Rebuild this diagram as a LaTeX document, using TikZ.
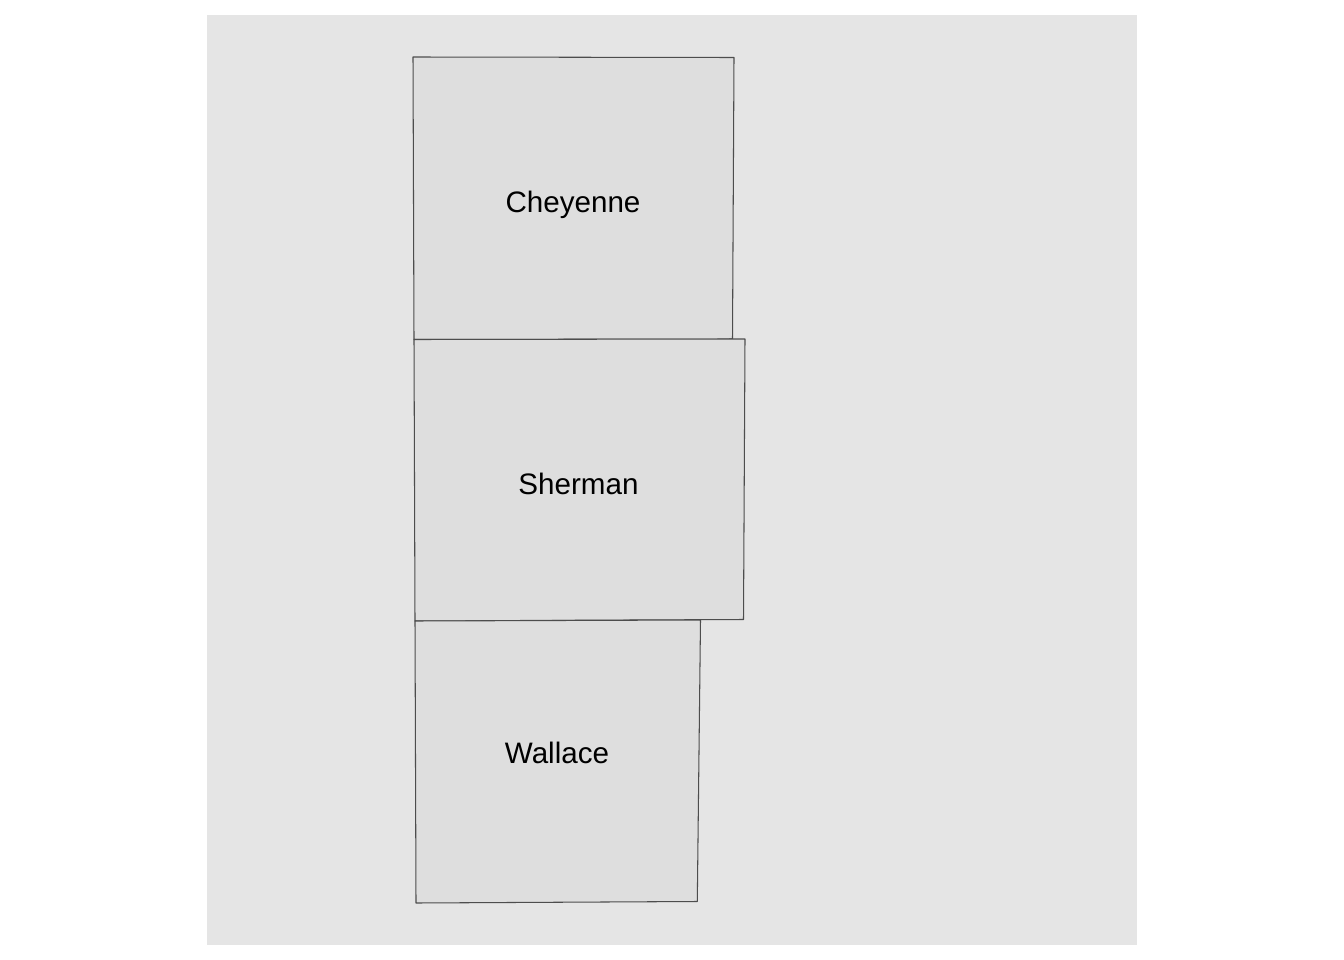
\documentclass[tikz,border=0pt]{standalone}
\usepackage{fontspec}
\setmainfont{Liberation Sans}
\usepackage{xcolor}
\definecolor{panelgrey}{HTML}{E5E5E5}
\definecolor{countygrey}{HTML}{DEDEDE}
\definecolor{edgegrey}{HTML}{4D4D4D}
\begin{document}
\begin{tikzpicture}[x=1pt,y=-1pt,
  countyshape/.style={draw=edgegrey, line width=1.05pt, fill=countygrey, line join=round},
  countylabel/.style={font=\fontsize{29.6}{32}\selectfont, text=black, inner sep=0pt, anchor=base}
]
  \useasboundingbox (0,0) rectangle (1344,960);
  \fill[panelgrey] (207,15) rectangle (1137,945);

  \draw[countyshape] (413,57) -- (734,57.5) -- (732.5,339) -- (414,339.5) -- cycle;
  \draw[countyshape] (414,339.5) -- (745,339) -- (743.5,619.5) -- (415,621) -- cycle;
  \draw[countyshape] (415,621) -- (700.5,620) -- (697.3,901.5) -- (416,903) -- cycle;

  \node[countylabel] (cheyenne) at (573,212.5) {Cheyenne};
  \node[countylabel] (sherman) at (578.5,494.5) {Sherman};
  \node[countylabel] (wallace) at (557,763.5) {Wallace};
\end{tikzpicture}
\end{document}
